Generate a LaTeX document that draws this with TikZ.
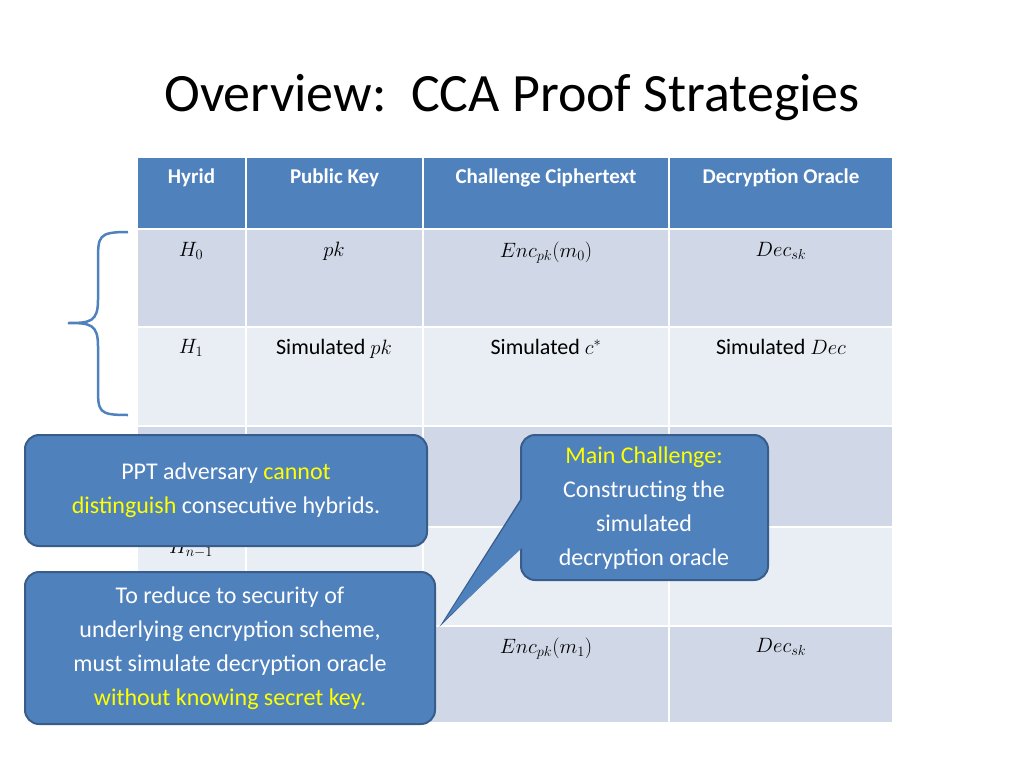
\documentclass[tikz,border=0pt]{standalone}
\usepackage{fontspec}
\setmainfont{Carlito}
\definecolor{hdblue}{RGB}{79,129,189}
\definecolor{rowdark}{RGB}{208,216,232}
\definecolor{rowlight}{RGB}{233,237,244}
\definecolor{calloutline}{RGB}{56,93,138}
\definecolor{hilite}{RGB}{255,255,0}
\tikzset{
    cell/.style={draw=white,line width=2pt},
    celltext/.style={anchor=north,font=\fontsize{22}{26}\selectfont,inner sep=0pt},
    headtext/.style={anchor=center,text=white,font=\fontsize{21}{25}\selectfont\bfseries},
    callout/.style={fill=hdblue,draw=calloutline,line width=2pt,rounded corners=14pt},
    callouttext/.style={text=white,align=center,font=\fontsize{24}{34}\selectfont}
}
\newcommand{\hl}[1]{\textcolor{hilite}{#1}}
\begin{document}
\begin{tikzpicture}[x=1pt,y=-1pt]
\useasboundingbox (0,0) rectangle (1024,768);
\node[anchor=center,font=\fontsize{54}{60}\selectfont] (title) at (512,98) {Overview:\ \ CCA Proof Strategies};
% table
\def\colx{137/246/{Hyrid},246/423/{Public Key},423/669/{Challenge Ciphertext},669/893/{Decryption Oracle}}
\foreach \xa/\xb/\txt [count=\i] in \colx {
    \fill[hdblue,cell] (\xa,157) rectangle (\xb,229);
    \node[headtext] (head\i) at ({(\xa+\xb)/2},178) {\txt};
    \foreach \ya/\yb/\col in {229/327/rowdark,327/426/rowlight,426/527/rowdark,527/626/rowlight,626/723/rowdark}
        \filldraw[fill=\col,cell] (\xa,\ya) rectangle (\xb,\yb);
}
\node[celltext] (h0) at (191,242) {$H_0$};
\node[celltext] (pk0) at (334,242) {$pk$};
\node[celltext] (enc0) at (546,242) {$Enc_{pk}(m_0)$};
\node[celltext] (dec0) at (781,242) {$Dec_{sk}$};
\node[celltext] (h1) at (191,339) {$H_1$};
\node[celltext] (pk1) at (334,339) {Simulated $pk$};
\node[celltext] (enc1) at (546,339) {Simulated $c^*$};
\node[celltext] (dec1) at (781,339) {Simulated $Dec$};
\node[celltext] (hn) at (191,539) {$H_{n-1}$};
\node[celltext] (encn) at (546,638) {$Enc_{pk}(m_1)$};
\node[celltext] (decn) at (781,638) {$Dec_{sk}$};
% brace
\draw[hdblue,line width=2.5pt] (128,232) .. controls (98,232) and (98,236) .. (98,262)
    -- (98,300) .. controls (98,322) and (90,323) .. (68,323)
    .. controls (90,323) and (98,324) .. (98,346) -- (98,386)
    .. controls (98,412) and (98,415) .. (128,415);
% callouts
\draw[callout] (25,435) rectangle (427,546);
\node[callouttext] (adv) at (226,490) {PPT adversary \hl{cannot}\\\hl{distinguish} consecutive hybrids.};
\draw[callout] (25,572) rectangle (435,724);
\node[callouttext] (reduce) at (230,648) {To reduce to security of\\underlying encryption scheme,\\must simulate decryption oracle\\\hl{without knowing secret key.}};
\coordinate (tip) at (445,620);
\draw[callout,rounded corners=0pt] (521,500) -- (tip) -- (521,545);
\draw[callout] (521,435) rectangle (768,580);
\fill[hdblue] (523,498) -- (tip) -- (523,547) -- cycle;
\node[callouttext] (main) at (644,508) {\hl{Main Challenge:}\\Constructing the\\simulated\\decryption oracle};
\end{tikzpicture}
\end{document}
